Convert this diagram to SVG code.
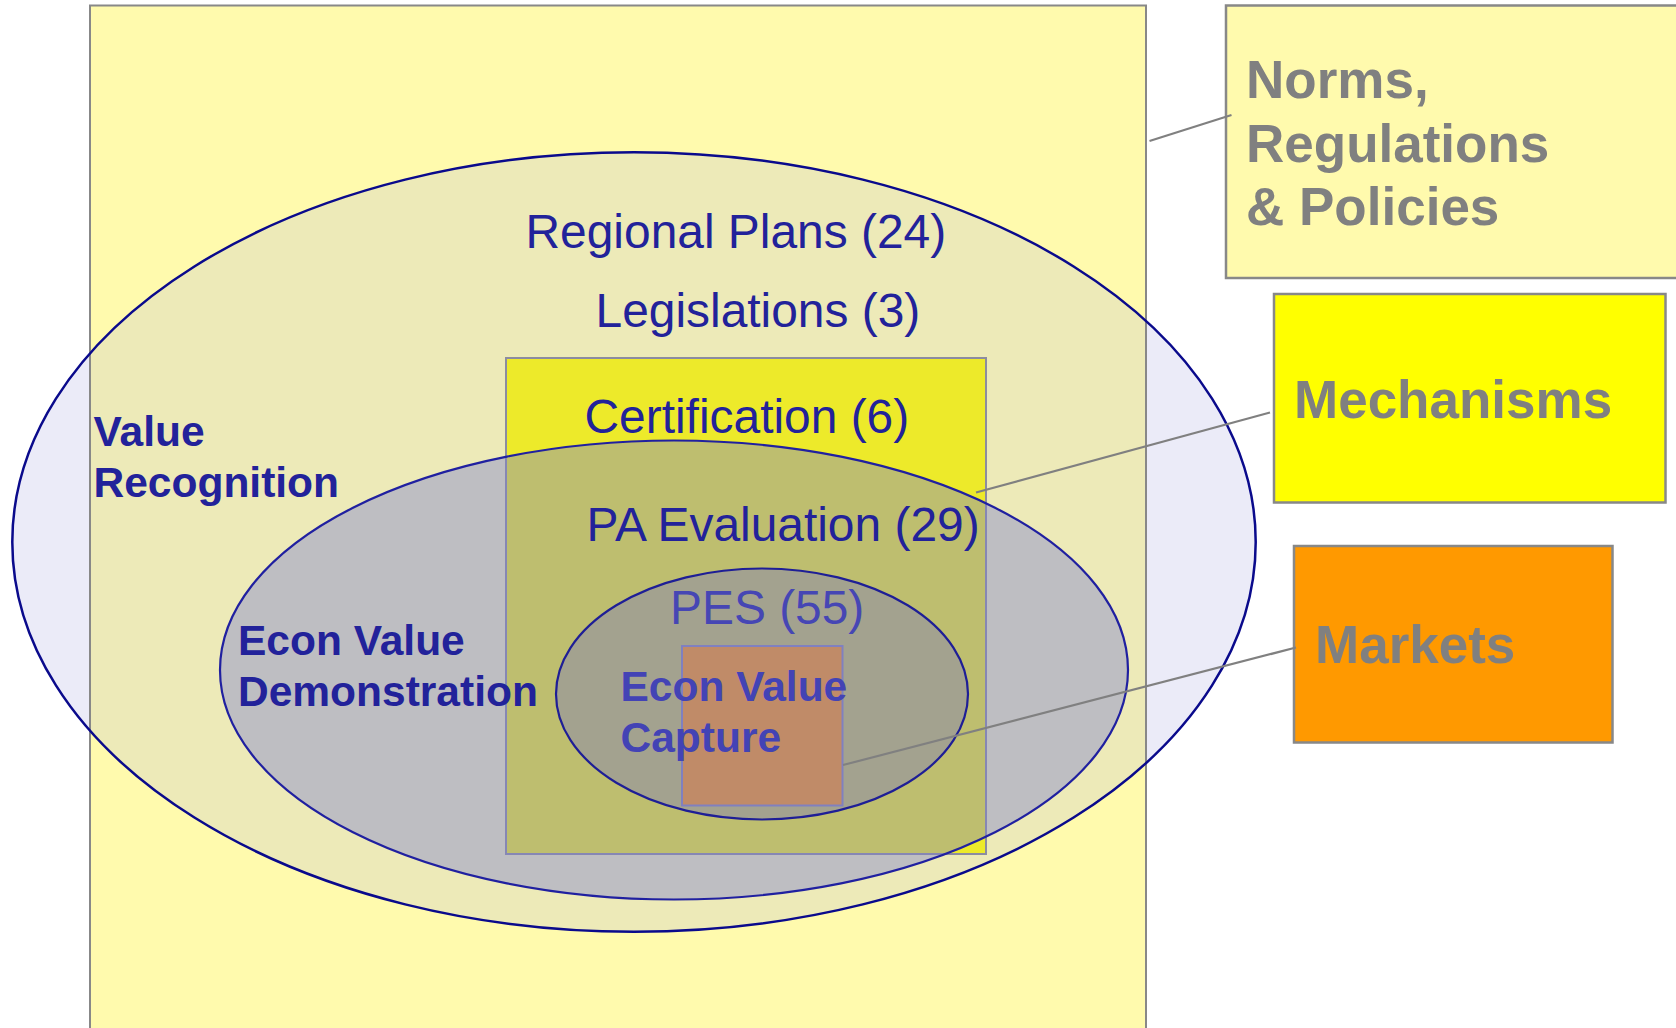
<svg xmlns="http://www.w3.org/2000/svg" width="1676" height="1028" viewBox="0 0 1676 1028">
<style>
.lbl{font-family:"Liberation Sans",Arial,sans-serif;font-size:47.9px;fill:#22229A}
.bold{font-family:"Liberation Sans",Arial,sans-serif;font-size:42.5px;font-weight:bold;fill:#22229A}
.side{font-family:"Liberation Sans",Arial,sans-serif;font-size:53px;font-weight:bold;fill:#808080}
.box{stroke:#888888;stroke-width:2.5}
.conn{stroke:#808080;stroke-width:2.2;fill:none}
</style>
<defs>
<clipPath id="rectClip"><rect x="90" y="5.5" width="1056" height="1100"/></clipPath>
</defs>
<rect width="1676" height="1028" fill="#FFFFFF"/>
<g id="norms-area">
<rect x="90" y="5.5" width="1056" height="1100" fill="#FFFAAD"/>
</g>
<g id="value-recognition">
<ellipse cx="634" cy="542" rx="621.7" ry="389.7" fill="#EBEBF8"/>
<ellipse cx="634" cy="542" rx="621.7" ry="389.7" fill="#EDEAB8" clip-path="url(#rectClip)"/>
</g>
<rect x="90" y="5.5" width="1056" height="1100" fill="none" stroke="#888888" stroke-width="2"/>
<ellipse cx="634" cy="542" rx="621.7" ry="389.7" fill="none" stroke="#0A0A8C" stroke-width="2.5"/>
<g id="mechanisms-area">
<rect x="506" y="358" width="480" height="496" fill="#EDEA2A" stroke="#8C8CA0" stroke-width="2"/>
</g>
<g id="econ-value-demonstration">
<ellipse cx="674" cy="670" rx="454" ry="229.5" fill="rgb(124,127,210)" fill-opacity="0.415" stroke="#2020A0" stroke-width="2.2"/>
</g>
<g id="pes">
<ellipse cx="762" cy="694" rx="206" ry="125.5" fill="#A3A28F" stroke="#1E1E96" stroke-width="2.2"/>
</g>
<g id="markets-area">
<rect x="682" y="646" width="160.5" height="159.5" fill="#C08B68" stroke="#8080C0" stroke-width="2"/>
</g>
<g id="norms-box">
<rect x="1226" y="5.5" width="470" height="272.5" fill="#FFFAAD" class="box"/>
<text class="side" x="1246" y="98">Norms,</text>
<text class="side" x="1246" y="162">Regulations</text>
<text class="side" x="1246" y="225">&amp; Policies</text>
</g>
<g id="mechanisms-box">
<rect x="1274" y="294" width="391.5" height="208.5" fill="#FFFF00" class="box"/>
<text class="side" x="1294" y="418">Mechanisms</text>
</g>
<g id="markets-box">
<rect x="1294" y="546" width="318.5" height="196.5" fill="#FF9900" class="box"/>
<text class="side" x="1315" y="663">Markets</text>
</g>
<g id="connectors">
<line class="conn" x1="1149.5" y1="141" x2="1231.5" y2="115"/>
<line class="conn" x1="976" y1="492.5" x2="1270" y2="412.5"/>
<line class="conn" x1="843" y1="765" x2="1296" y2="647.5"/>
</g>
<g id="labels">
<text class="lbl" x="525.5" y="248">Regional Plans (24)</text>
<text class="lbl" x="595.5" y="327">Legislations (3)</text>
<text class="lbl" x="584.5" y="433">Certification (6)</text>
<text class="lbl" x="586.5" y="541">PA Evaluation (29)</text>
<text class="lbl" x="670" y="624" style="fill:#4646B4">PES (55)</text>
<text class="bold" x="93.5" y="446">Value</text>
<text class="bold" x="93.5" y="497">Recognition</text>
<text class="bold" x="238" y="655">Econ Value</text>
<text class="bold" x="238" y="706">Demonstration</text>
<text class="bold" x="620.5" y="701" style="fill:#4343B5">Econ Value</text>
<text class="bold" x="620.5" y="752" style="fill:#4343B5">Capture</text>
</g>
</svg>
